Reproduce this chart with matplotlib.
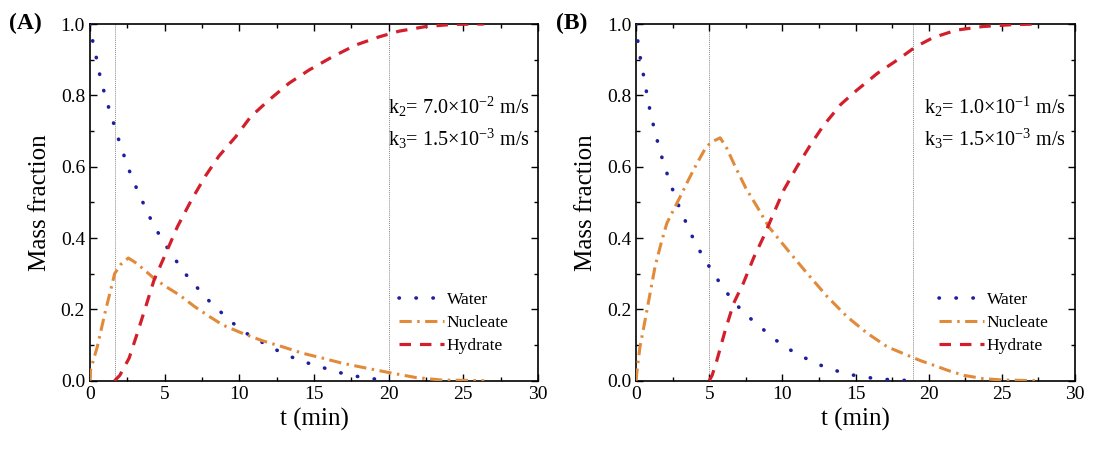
import matplotlib
matplotlib.use('Agg')
import matplotlib.pyplot as plt
from matplotlib.ticker import MultipleLocator

plt.rcParams['font.family'] = ['Liberation Serif', 'DejaVu Serif']
plt.rcParams['mathtext.fontset'] = 'custom'
plt.rcParams['mathtext.rm'] = 'Liberation Serif'
plt.rcParams['mathtext.it'] = 'Liberation Serif:italic'

# ---- panel A: k2 = 7.0e-2 m/s ----
a_water_t = [0, 0.16, 0.38, 0.56, 0.78, 1.05, 1.32, 1.63, 1.9, 2.22, 2.53, 2.89, 3.29, 3.7, 4.1,
             4.59, 5.08, 5.64, 6.15, 6.74, 7.41, 8.08, 8.8, 9.53, 10.3, 11.2, 12.03, 12.95, 13.85,
             14.78, 15.74, 16.68, 17.62, 18.46, 19.2, 19.85]
a_water = [1.0, 0.957, 0.916, 0.875, 0.836, 0.794, 0.757, 0.716, 0.679, 0.639, 0.600, 0.562, 0.523,
           0.486, 0.450, 0.413, 0.379, 0.345, 0.312, 0.282, 0.250, 0.219, 0.191, 0.163, 0.137,
           0.116, 0.095, 0.077, 0.060, 0.047, 0.035, 0.023, 0.014, 0.008, 0.004, 0.0]

a_nuc_t = [0, 0.04, 0.49, 1.05, 1.5, 1.65, 2.06, 2.57, 3.17, 3.6, 4.29, 5.08, 6.0, 7.0, 8.0, 8.9,
           10.2, 11.55, 12.9, 14.24, 15.6, 16.9, 18.3, 20.0, 21.8, 23.5, 26.4]
a_nuc = [0, 0.03, 0.095, 0.198, 0.273, 0.300, 0.326, 0.344, 0.328, 0.312, 0.287, 0.264, 0.240,
         0.208, 0.180, 0.156, 0.133, 0.112, 0.095, 0.077, 0.063, 0.049, 0.037, 0.023, 0.009,
         0.002, 0.0]

a_hyd_t = [1.65, 2.0, 2.62, 3.17, 3.73, 4.29, 5.08, 5.86, 6.8, 7.75, 8.64, 9.76, 10.76, 11.99,
           13.33, 14.67, 16.23, 17.79, 19.36, 20.7, 22.5, 24.3, 26.4]
a_hyd = [0, 0.015, 0.063, 0.133, 0.207, 0.282, 0.357, 0.432, 0.507, 0.575, 0.630, 0.684, 0.740,
         0.787, 0.834, 0.871, 0.908, 0.941, 0.964, 0.980, 0.993, 0.999, 1.0]

a_marks = [1.65, 20.0]

# ---- panel B: k2 = 1.0e-1 m/s ----
b_water_t = [0, 0.11, 0.25, 0.43, 0.62, 0.78, 0.98, 1.21, 1.44, 1.69, 2.01, 2.31, 2.67, 3.01, 3.4,
             3.81, 4.27, 4.75, 5.3, 5.84, 6.44, 7.0, 7.8, 8.6, 9.4, 10.2, 11.1, 12.0, 12.9, 13.9,
             14.8, 15.8, 16.9, 17.8, 18.9]
b_water = [1.0, 0.955, 0.915, 0.873, 0.834, 0.792, 0.753, 0.712, 0.675, 0.636, 0.595, 0.556,
           0.518, 0.480, 0.445, 0.407, 0.370, 0.336, 0.301, 0.267, 0.234, 0.207, 0.175, 0.147,
           0.119, 0.093, 0.075, 0.053, 0.039, 0.025, 0.016, 0.009, 0.004, 0.002, 0.0]

b_nuc_t = [0, 0.07, 0.27, 0.62, 0.96, 1.3, 1.71, 2.1, 2.67, 3.13, 3.58, 4.16, 4.73, 5.0, 5.3, 5.75,
           6.21, 6.78, 7.12, 7.5, 8.27, 9.06, 10.55, 11.69, 13.06, 14.43, 15.8, 17.17, 18.5,
           19.45, 20.3, 21.3, 22.4, 23.7, 25.0, 27.4]
b_nuc = [0, 0.03, 0.095, 0.17, 0.245, 0.32, 0.385, 0.441, 0.488, 0.525, 0.563, 0.609, 0.651,
         0.663, 0.672, 0.681, 0.651, 0.600, 0.572, 0.540, 0.488, 0.432, 0.357, 0.301, 0.236,
         0.179, 0.133, 0.095, 0.072, 0.056, 0.044, 0.029, 0.015, 0.006, 0.002, 0.0]

b_hyd_t = [5.0, 5.2, 5.53, 6.1, 6.67, 7.35, 8.04, 8.72, 9.4, 10.1, 11.0, 11.9, 12.8, 14.0, 15.1,
           16.5, 17.85, 19.1, 20.3, 21.9, 23.7, 25.6, 27.4]
b_hyd = [0, 0.015, 0.058, 0.142, 0.217, 0.275, 0.345, 0.404, 0.469, 0.535, 0.600, 0.660, 0.715,
         0.775, 0.815, 0.862, 0.899, 0.936, 0.962, 0.983, 0.993, 0.998, 1.0]

b_marks = [5.0, 18.9]

a_k_text = [r'k$_2$= 7.0×10$^{-2}$ m/s', r'k$_3$= 1.5×10$^{-3}$ m/s']
b_k_text = [r'k$_2$= 1.0×10$^{-1}$ m/s', r'k$_3$= 1.5×10$^{-3}$ m/s']

c_water = '#1f1f9e'
c_nuc = '#e08a3a'
c_hyd = '#d21f2b'


def draw_panel(ax, water_t, water, nuc_t, nuc, hyd_t, hyd, marks, k_text, tx):
    for m in marks:
        ax.axvline(m, color='#8a8a8a', lw=0.7, ls=(0, (1, 1)), zorder=1)
    ax.plot(water_t, water, color=c_water, lw=2.6, ls=(0, (0.1, 4.6)),
            dash_capstyle='round', label='Water', zorder=3)
    ax.plot(nuc_t, nuc, color=c_nuc, lw=2.2, ls=(0, (4.0, 1.8, 0.8, 1.8)),
            label='Nucleate', zorder=3)
    ax.plot(hyd_t, hyd, color=c_hyd, lw=2.3, ls=(0, (3.6, 2.8)),
            label='Hydrate', zorder=3)

    ax.set_xlim(0, 30)
    ax.set_ylim(0, 1.0)
    ax.xaxis.set_major_locator(MultipleLocator(5))
    ax.xaxis.set_minor_locator(MultipleLocator(2.5))
    ax.yaxis.set_major_locator(MultipleLocator(0.2))
    ax.yaxis.set_minor_locator(MultipleLocator(0.1))
    ax.yaxis.set_major_formatter(plt.FormatStrFormatter('%.1f'))
    ax.tick_params(axis='both', which='both', direction='in', top=True, right=True,
                   labelsize=14, width=1.0)
    ax.tick_params(which='major', length=5)
    ax.tick_params(which='minor', length=3)
    for s in ax.spines.values():
        s.set_linewidth(1.2)

    ax.set_xlabel('t (min)', fontsize=18, labelpad=4)
    ax.set_ylabel('Mass fraction', fontsize=18, labelpad=7)

    ax.text(tx, 0.748, k_text[0], transform=ax.transAxes, fontsize=14.5, va='baseline')
    ax.text(tx, 0.658, k_text[1], transform=ax.transAxes, fontsize=14.5, va='baseline')

    leg = ax.legend(loc='center left', bbox_to_anchor=(0.69, 0.162), frameon=False,
                    fontsize=12.5, handlelength=2.6, handletextpad=0.15, labelspacing=0.4,
                    borderpad=0, borderaxespad=0)
    return leg


fig = plt.figure(figsize=(10.97, 4.5), dpi=100)
ax_a = fig.add_axes([0.082, 0.154, 0.4084, 0.7926])
ax_b = fig.add_axes([0.5798, 0.154, 0.4002, 0.7926])

draw_panel(ax_a, a_water_t, a_water, a_nuc_t, a_nuc, a_hyd_t, a_hyd, a_marks, a_k_text, 0.665)
draw_panel(ax_b, b_water_t, b_water, b_nuc_t, b_nuc, b_hyd_t, b_hyd, b_marks, b_k_text, 0.655)

fig.text(0.008, 0.947, '(A)', fontsize=17, fontweight='bold', va='center')
fig.text(0.507, 0.947, '(B)', fontsize=17, fontweight='bold', va='center')

fig.savefig('out.png', dpi=100)
